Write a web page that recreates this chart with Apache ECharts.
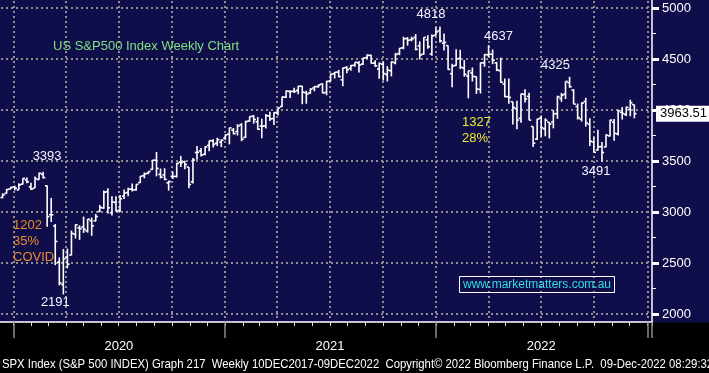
<!DOCTYPE html>
<html><head><meta charset="utf-8">
<script src="https://cdn.jsdelivr.net/npm/echarts@6/dist/echarts.min.js"></script>
<style>html,body{margin:0;padding:0;background:#000;}#c{width:709px;height:373px;}</style>
</head><body><div id="c"></div>
<script>
// ---- DATA (S&P 500 weekly bars, week ending Fridays from 13-Dec-2019) ----
const firstWeekEnding = '2019-12-13';
const opens = [
3142,3183,3225,
3247,3217,3273,3315,3247,3235,3318,3369,3257,2974,2863,2508,2290,2555,2578,2782,2845,2854,2815,2915,2913,3005,3039,3199,2993,3094,3018,3155,3191,3224,3219,3288,3356,3380,3418,3507,3369,3363,3285,3350,3349,3488,3493,3441,3296,3583,3600,3566,3653,3698,3675,3684,3723,
3764,3803,3788,3856,3732,3892,3939,3885,3842,3844,3942,3916,3969,4034,4125,4182,4185,4192,4233,4170,4168,4216,4229,4255,4173,4285,4356,4372,4296,4417,4407,4438,4462,4450,4513,4536,4461,4403,4448,4348,4385,4463,4553,4610,4701,4689,4712,4628,4548,4687,4548,4733,
4778,4655,4632,4356,4437,4505,4412,4332,4363,4327,4202,4462,4541,4547,4462,4385,4255,4130,4081,4013,3919,4153,4134,3838,3715,3920,3815,3880,3883,3965,4113,4155,4269,4195,4034,3909,4083,3860,3686,3609,3640,3638,3746,3881,3766,3977,3956,4005,4052
];
const highs = [
3182.7,3225.6,3247.9,
3258.1,3282.9,3329.9,3337.8,3285.9,3348.0,3385.1,3393.5,3259.8,3136.7,2882.6,2553.9,2637.0,2641.4,2818.6,2879.2,2869.1,2954.9,2932.2,2945.8,2980.3,3068.7,3211.7,3233.1,3155.5,3154.9,3165.8,3220.4,3238.3,3279.3,3272.0,3352.5,3387.9,3399.5,3509.4,3588.1,3425.6,3428.9,3306.9,3397.2,3482.3,3549.9,3502.4,3441.4,3529.1,3646.0,3628.5,3644.3,3699.2,3712.4,3726.7,3711.2,3760.2,
3826.7,3823.6,3861.5,3870.9,3894.6,3937.2,3950.4,3931.3,3914.5,3960.3,3983.9,3978.2,4020.6,4129.5,4191.3,4194.2,4218.8,4238.0,4236.4,4188.7,4213.4,4233.5,4249.7,4262.0,4286.1,4355.4,4372.0,4393.7,4415.2,4430.0,4440.8,4468.4,4481.0,4513.3,4545.9,4541.5,4486.8,4465.4,4475.8,4430.0,4475.8,4559.7,4608.1,4718.5,4714.9,4717.8,4743.8,4673.0,4713.6,4732.0,4740.7,4808.9,
4818.6,4748.8,4632.2,4453.2,4595.3,4590.0,4489.6,4385.0,4416.8,4328.0,4465.4,4546.0,4637.3,4593.5,4471.5,4513.0,4308.5,4307.7,4081.1,4090.7,4158.5,4204.3,4168.8,3838.1,3913.7,3945.9,3918.5,3880.9,3999.3,4140.2,4167.7,4280.5,4325.3,4203.0,4063.0,4076.8,4119.3,3919.4,3733.6,3806.9,3685.4,3762.8,3905.4,3911.8,4001.5,4028.8,4034.0,4100.5,4052.5
];
const lows = [
3135,3181,3223,
3212,3214.6,3270,3281.5,3214.6,3234.5,3315.5,3328.5,2855.8,2901.5,2478.9,2280.5,2191.9,2447.5,2575,2740.4,2727.1,2794.5,2797.9,2766.6,2910,2999,3032,2984.5,2965.7,3004.6,3000.5,3127.7,3155.5,3200.7,3209.5,3284.5,3329.3,3369.7,3413.4,3349.6,3329.3,3313.5,3209.5,3323.7,3338,3441.4,3419.9,3233.9,3279.7,3511.9,3543.8,3555.2,3594.4,3633.4,3647.5,3636.5,3707.1,
3662.7,3761.5,3749.6,3694.1,3725.6,3884.9,3865.7,3805.6,3723.3,3818.9,3893.0,3853.5,3945.7,4030,4118.4,4118.4,4165.9,4154.2,4056.9,4061.4,4156.7,4183.0,4219.3,4164.4,4144.3,4281.2,4309.0,4321.8,4233.1,4360.2,4385.3,4425.2,4367.7,4440,4501.0,4456.2,4420.6,4305.9,4288.5,4278.9,4329.9,4447.5,4537.4,4595.1,4630.9,4672.8,4585.4,4495.1,4540.5,4600.2,4531.1,4728,
4662.7,4582.2,4395.3,4222.6,4435,4401.4,4327.2,4114.7,4279.5,4157.9,4161.7,4424.0,4517.7,4450.0,4381.3,4267.6,4124.3,4062.5,3858.9,3810.3,3875.1,4073.9,3900.2,3636.9,3705.7,3738.7,3742.1,3721.6,3820.1,3913.7,4079.8,4107.0,4218.7,4057.0,3906.2,3886.8,3837.1,3647.5,3584.1,3600,3491.6,3636,3740,3698.1,3750.6,3906.5,3940.2,3938.6,3918.4
];
const closes = [
3168.8,3221.2,3240.0,
3234.9,3265.4,3329.6,3295.5,3225.5,3327.7,3380.2,3337.8,2954.2,2972.4,2711.0,2304.9,2541.5,2488.7,2789.8,2874.6,2836.7,2830.7,2929.8,2863.7,2955.5,3044.3,3193.9,3041.3,3097.7,3009.1,3130.0,3185.0,3224.7,3215.6,3271.1,3351.3,3372.9,3397.2,3508.0,3427.0,3341.0,3319.5,3298.5,3348.4,3477.1,3483.8,3465.4,3270.0,3509.4,3585.2,3557.5,3638.4,3699.1,3663.5,3709.4,3703.1,3756.1,
3824.7,3768.3,3841.5,3714.2,3886.8,3934.8,3906.7,3811.2,3841.9,3943.3,3913.1,3974.5,4019.9,4128.8,4185.5,4180.2,4181.2,4232.6,4173.9,4155.9,4204.1,4229.9,4247.4,4166.5,4280.7,4352.3,4369.6,4327.2,4411.8,4395.3,4436.5,4468.0,4441.7,4509.4,4535.4,4458.6,4433.0,4455.5,4357.0,4391.3,4471.4,4544.9,4605.4,4697.5,4682.9,4698.0,4594.6,4538.4,4712.0,4620.6,4725.8,4766.2,
4677.0,4662.9,4397.9,4431.9,4500.5,4418.6,4348.9,4384.7,4328.9,4204.3,4463.1,4543.1,4545.9,4488.3,4392.6,4271.8,4131.9,4123.3,4023.9,3901.4,4158.2,4108.5,3900.9,3674.8,3911.7,3825.3,3899.4,3863.2,3961.6,4130.3,4145.2,4280.2,4228.5,4057.7,3924.3,4067.4,3873.3,3693.2,3585.6,3639.7,3583.1,3752.8,3901.1,3770.6,3992.9,3965.3,4026.1,4071.7,3963.51
];
const yTickValues = [2000, 2500, 3000, 3500, 4000, 4500, 5000];
const peakWeeks = [10, 108, 120, 140];    // 3393, 4818, 4637, 4325
const troughWeeks = [15, 148];            // 2191, 3491
const chartTitle = 'US S&P500 Index Weekly Chart';
const covidNote = '1202\n35%\nCOVID';
const bearNote = '1327\n28%';
const website = 'www.marketmatters.com.au';
const footer = 'SPX Index (S&P 500 INDEX) Graph 217  Weekly 10DEC2017-09DEC2022  Copyright\u00A9 2022 Bloomberg Finance L.P.  09-Dec-2022 08:29:32';

// ---- axis categories: one per calendar day ----
const DAY = 86400000;
const axisStart = Date.UTC(2019, 11, 9);
const axisDays = 1127;
const days = [];
for (let i = 0; i < axisDays; i++) days.push(new Date(axisStart + i * DAY).toISOString().slice(0, 10));
const w0 = Date.parse(firstWeekEnding + 'T00:00:00Z');
const weekDates = closes.map((_, i) => new Date(w0 + i * 7 * DAY).toISOString().slice(0, 10));
const ohlc = closes.map((c, i) => [weekDates[i], opens[i], highs[i], lows[i], c]);

// ---- styles ----
const NAVY = '#100e4a';
const DOT_COLOR = '#8f8f8f';
const FONT = "'Liberation Sans', Arial, sans-serif";
const peakOffsets = [[4, -15], [-9, -12], [10, -9], [-14, -11]];
const troughOffsets = [[-8, 8], [-6, 10]];

const markData = [];
peakWeeks.forEach((w, k) => markData.push({
  coord: [weekDates[w], highs[w]], value: Math.floor(highs[w]),
  label: { offset: peakOffsets[k] }
}));
troughWeeks.forEach((w, k) => markData.push({
  coord: [weekDates[w], lows[w]], value: Math.floor(lows[w]),
  label: { offset: troughOffsets[k] }
}));

const isFirstOfMonth = (i, v) => v.slice(8) === '01';
const isQuarterStart = (i, v) => /-(01|04|07|10)-01$/.test(v);
const isMidYear = (i, v) => v.slice(5) === '07-01';
const isYearStart = (i, v) => v.slice(5) === '01-01';
const quarterDays = days.filter((v, i) => isQuarterStart(i, v));

// dotted grid line built from small squares (position from the axis scale)
function dottedLine(horizontal, pos, cs) {
  const children = [];
  const p = Math.round(pos);
  if (horizontal) {
    for (let x = cs.x + 1; x < cs.x + cs.width - 1; x += 5)
      children.push({ type: 'rect', shape: { x: x, y: p - 1, width: 2, height: 2 }, style: { fill: DOT_COLOR } });
  } else {
    for (let y = cs.y + 1; y < cs.y + cs.height - 1; y += 5)
      children.push({ type: 'rect', shape: { x: p - 1, y: y, width: 2, height: 2 }, style: { fill: DOT_COLOR } });
  }
  return { type: 'group', children: children };
}

const chart = echarts.init(document.getElementById('c'), null, { renderer: 'canvas' });
chart.setOption({
  backgroundColor: NAVY,
  animation: false,
  graphic: [
    { type: 'rect', z: -10, silent: true, x: 0, y: 322.5,
      shape: { width: 709, height: 51 }, style: { fill: '#000000' } },
    { type: 'text', silent: true, x: 2, y: 358, scaleX: 0.872,
      style: { text: footer, fill: '#ffffff', font: "13px 'Liberation Sans', Arial, sans-serif",
        verticalAlign: 'top', align: 'left' } }
  ],
  title: [
    { text: chartTitle, left: 53, top: 40, padding: 0,
      textStyle: { color: '#7ee07e', fontSize: 13, fontWeight: 'normal', fontFamily: FONT } },
    { text: covidNote, left: 13, top: 217, padding: 0,
      textStyle: { color: '#ec8a2c', fontSize: 13, fontWeight: 'normal', fontFamily: FONT, lineHeight: 16 } },
    { text: bearNote, left: 462, top: 114, padding: 0,
      textStyle: { color: '#ecec2a', fontSize: 13, fontWeight: 'normal', fontFamily: FONT, lineHeight: 16 } },
    { text: website, left: 459, top: 276, padding: [2, 4, 1, 4], borderColor: '#ffffff', borderWidth: 1,
      textStyle: { color: '#2fdde6', fontSize: 12, fontWeight: 'normal', fontFamily: FONT, lineHeight: 14 } }
  ],
  grid: [
    { left: 0, right: 57, top: 8, bottom: 59 },
    { left: 0, right: 57, top: 0, bottom: 51 }
  ],
  xAxis: [
    { type: 'category', gridIndex: 0, data: days, show: false },
    { type: 'category', gridIndex: 1, data: days, position: 'bottom',
      axisLine: { show: true, onZero: false, lineStyle: { color: '#ffffff', width: 1.5 } },
      axisTick: { show: true, interval: isFirstOfMonth, length: 4, lineStyle: { color: '#e0e0e0', width: 1 } },
      axisLabel: { show: true, interval: isMidYear, formatter: v => v.slice(0, 4), margin: 18,
        color: '#ffffff', fontSize: 13, fontFamily: FONT },
      splitLine: { show: false } },
    { type: 'category', gridIndex: 1, data: days, position: 'bottom', offset: 17,
      axisLine: { show: false },
      axisTick: { show: true, interval: isYearStart, length: 16, lineStyle: { color: '#8a8a8a', width: 1.5 } },
      axisLabel: { show: false }, splitLine: { show: false } }
  ],
  yAxis: [
    { type: 'value', gridIndex: 0, position: 'right', min: yTickValues[0], max: yTickValues[yTickValues.length - 1],
      interval: yTickValues[1] - yTickValues[0],
      axisLine: { show: false },
      axisTick: { show: true, length: 7, lineStyle: { color: '#ffffff', width: 3 } },
      minorTick: { show: true, splitNumber: 2, length: 4, lineStyle: { color: '#ffffff', width: 1 } },
      axisLabel: { color: '#ffffff', fontSize: 13, fontFamily: FONT, margin: 10, formatter: v => String(v) },
      splitLine: { show: false } },
    { type: 'value', gridIndex: 1, position: 'right', min: 0, max: 1,
      axisLine: { show: true, onZero: false, lineStyle: { color: '#ffffff', width: 1.5 } },
      axisTick: { show: false }, axisLabel: { show: false }, splitLine: { show: false } }
  ],
  series: [{
    // horizontal dotted grid at the price ticks
    type: 'custom', xAxisIndex: 0, yAxisIndex: 0, z: 1, silent: true,
    data: yTickValues.map(v => [days[0], v]),
    encode: { x: 0, y: 1 },
    renderItem: function (params, api) {
      const pt = api.coord([api.value(0), api.value(1)]);
      return dottedLine(true, pt[1], params.coordSys);
    }
  }, {
    // vertical dotted grid at quarter starts
    type: 'custom', xAxisIndex: 1, yAxisIndex: 1, z: 1, silent: true,
    data: quarterDays.map(d => [d, 0]),
    encode: { x: 0, y: 1 },
    renderItem: function (params, api) {
      const pt = api.coord([api.value(0), api.value(1)]);
      return dottedLine(false, pt[0], params.coordSys);
    }
  }, {
    type: 'custom', xAxisIndex: 0, yAxisIndex: 0, z: 5,
    data: ohlc,
    encode: { x: 0, y: [1, 2, 3, 4] },
    renderItem: function (params, api) {
      const x = api.value(0);
      const o = api.coord([x, api.value(1)]);
      const h = api.coord([x, api.value(2)]);
      const l = api.coord([x, api.value(3)]);
      const c = api.coord([x, api.value(4)]);
      const t = 2.2;
      const st = { stroke: '#ffffff', lineWidth: 1.6 };
      return { type: 'group', children: [
        { type: 'line', shape: { x1: h[0], y1: h[1], x2: l[0], y2: l[1] }, style: st },
        { type: 'line', shape: { x1: o[0] - t, y1: o[1], x2: o[0], y2: o[1] }, style: st },
        { type: 'line', shape: { x1: c[0], y1: c[1], x2: c[0] + t, y2: c[1] }, style: st }
      ] };
    },
    markPoint: {
      symbol: 'circle', symbolSize: 0, silent: true,
      label: { show: true, position: 'inside', color: '#f2f5ff', fontSize: 13, fontFamily: FONT,
        formatter: p => String(p.value) },
      data: markData
    },
    markLine: {
      silent: true, symbol: ['none', 'none'],
      lineStyle: { color: 'rgba(0,0,0,0)', width: 0 },
      label: { show: true, position: 'end', distance: 4, opacity: 1,
        backgroundColor: '#ffffff', color: '#000000', fontSize: 13, fontFamily: FONT,
        padding: [2, 3, 1, 4], formatter: p => p.value.toFixed(2) },
      data: [{ yAxis: closes[closes.length - 1] }]
    }
  }]
});
</script></body></html>
